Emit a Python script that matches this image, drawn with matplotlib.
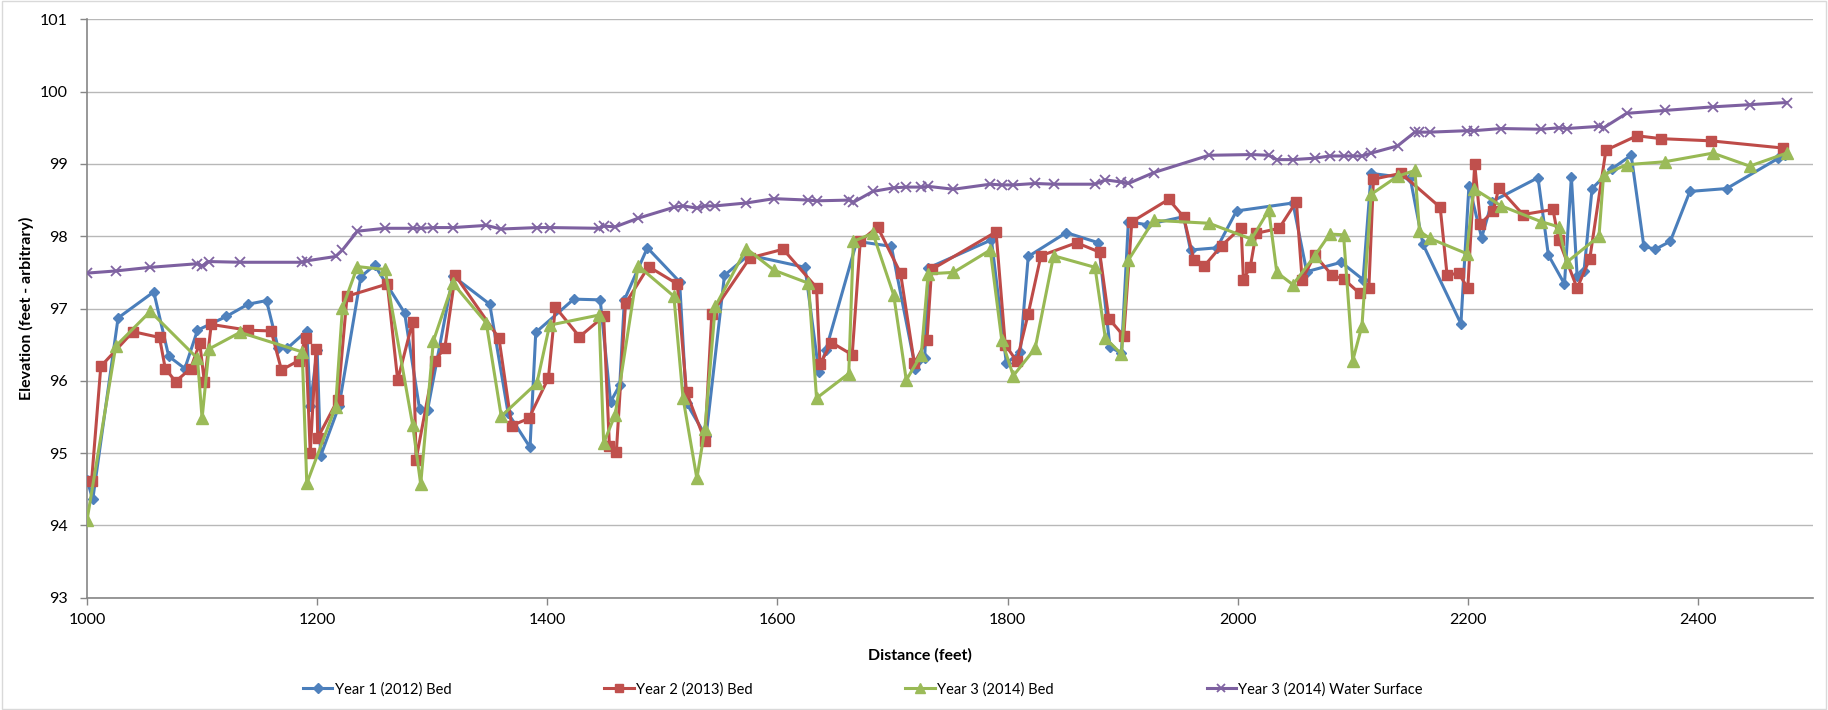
import matplotlib
matplotlib.use("Agg")
import matplotlib.pyplot as plt
from matplotlib.patches import Rectangle

plt.rcParams['font.family'] = ['Lato', 'DejaVu Sans']

# ---- Year 1 (2012) Bed ----
x1 = [1000, 1005, 1027, 1058, 1071, 1085, 1096, 1121, 1140, 1156, 1166, 1174, 1191, 1194,
      1200, 1203, 1219, 1238, 1250, 1276, 1289, 1296, 1318, 1350, 1366, 1385, 1390, 1423,
      1446, 1455, 1463, 1467, 1487, 1515, 1521, 1538, 1554, 1575, 1624, 1636, 1642, 1669,
      1699, 1720, 1728, 1731, 1786, 1799, 1811, 1818, 1851, 1879, 1889, 1899, 1905, 1921,
      1953, 1959, 1982, 1999, 2048, 2060, 2090, 2109, 2116, 2150, 2161, 2194, 2201, 2212,
      2221, 2261, 2270, 2284, 2290, 2295, 2301, 2308, 2325, 2342, 2353, 2363, 2376, 2393,
      2425, 2470, 2476]
y1 = [94.63, 94.36, 96.87, 97.23, 96.34, 96.17, 96.70, 96.89, 97.06, 97.11, 96.46, 96.45, 96.69, 95.65,
      96.43, 94.96, 95.65, 97.44, 97.60, 96.94, 95.61, 95.60, 97.45, 97.06, 95.55, 95.08, 96.67, 97.13,
      97.12, 95.71, 95.94, 97.12, 97.84, 97.37, 95.69, 95.23, 97.46, 97.74, 97.57, 96.12, 96.42, 97.93,
      97.86, 96.17, 96.31, 97.56, 97.95, 96.24, 96.40, 97.72, 98.05, 97.91, 96.47, 96.38, 98.20, 98.16,
      98.27, 97.81, 97.84, 98.35, 98.46, 97.51, 97.64, 97.40, 98.87, 98.80, 97.89, 96.79, 98.70, 97.98,
      98.48, 98.81, 97.74, 97.34, 98.82, 97.45, 97.52, 98.66, 98.93, 99.12, 97.86, 97.82, 97.93, 98.62,
      98.66, 99.08, 99.13]

# ---- Year 2 (2013) Bed ----
x2 = [1004, 1012, 1040, 1063, 1068, 1077, 1090, 1098, 1102, 1108, 1140, 1160, 1169, 1184,
      1190, 1194, 1199, 1200.5, 1218, 1226, 1261, 1270, 1283, 1286, 1302, 1311, 1320, 1358,
      1369, 1384, 1401, 1407, 1428, 1449, 1454, 1460, 1468, 1488, 1513, 1521, 1537, 1543,
      1576, 1605, 1634, 1637, 1647, 1665, 1672, 1687, 1707, 1719, 1730, 1734, 1790, 1798,
      1808, 1818, 1829, 1860, 1880, 1888, 1901, 1908, 1940, 1953, 1962, 1971, 1986, 2003,
      2005, 2011, 2016, 2036, 2051, 2056, 2067, 2082, 2092, 2106, 2114, 2118, 2142, 2176,
      2182, 2192, 2200, 2206, 2211, 2222, 2227, 2248, 2274, 2279, 2295, 2306, 2320, 2347,
      2368, 2411, 2474]
y2 = [94.62, 96.20, 96.68, 96.60, 96.17, 95.99, 96.17, 96.52, 95.98, 96.78, 96.70, 96.69, 96.15, 96.28,
      96.59, 95.00, 96.44, 95.21, 95.74, 97.17, 97.34, 96.01, 96.82, 94.91, 96.27, 96.46, 97.46, 96.59,
      95.38, 95.48, 96.04, 97.02, 96.61, 96.89, 95.10, 95.01, 97.07, 97.58, 97.34, 95.84, 95.17, 96.93,
      97.70, 97.82, 97.29, 96.23, 96.53, 96.36, 97.93, 98.13, 97.49, 96.24, 96.57, 97.54, 98.06, 96.50,
      96.27, 96.93, 97.73, 97.91, 97.78, 96.86, 96.62, 98.20, 98.51, 98.27, 97.67, 97.59, 97.87, 98.12,
      97.40, 97.58, 98.04, 98.11, 98.48, 97.40, 97.74, 97.46, 97.41, 97.21, 97.28, 98.79, 98.87, 98.40,
      97.46, 97.49, 97.28, 99.00, 98.17, 98.35, 98.67, 98.30, 98.37, 97.95, 97.28, 97.69, 99.19, 99.39,
      99.35, 99.32, 99.22]

# ---- Year 3 (2014) stations (shared by bed and water surface) ----
x3 = [1000, 1025, 1055, 1096, 1100, 1106, 1133, 1187, 1191, 1216, 1222, 1235, 1259, 1283,
      1290, 1301, 1318, 1347, 1360, 1391, 1402, 1445, 1449, 1459, 1479, 1510, 1518, 1530,
      1537, 1546, 1573, 1597, 1627, 1634, 1662, 1666, 1683, 1701, 1712, 1725, 1731, 1753,
      1785, 1795, 1805, 1824, 1840, 1876, 1885, 1899, 1905, 1927, 1975, 2012, 2027, 2034,
      2048, 2067, 2080, 2092, 2100, 2108, 2116, 2139, 2154, 2158, 2167, 2199, 2205, 2229,
      2264, 2279, 2286, 2314, 2318, 2338, 2371, 2413, 2445, 2477]
y3_bed = [94.07, 96.48, 96.96, 96.31, 95.48, 96.44, 96.67, 96.40, 94.58, 95.64, 97.01, 97.58, 97.54, 95.39,
          94.57, 96.55, 97.35, 96.80, 95.51, 95.97, 96.77, 96.91, 95.14, 95.53, 97.59, 97.17, 95.76, 94.65,
          95.34, 97.03, 97.83, 97.53, 97.35, 95.76, 96.10, 97.93, 98.04, 97.19, 96.01, 96.36, 97.48, 97.50,
          97.81, 96.56, 96.07, 96.45, 97.73, 97.57, 96.59, 96.37, 97.67, 98.22, 98.18, 97.96, 98.36, 97.50,
          97.33, 97.73, 98.03, 98.02, 96.28, 96.76, 98.58, 98.83, 98.91, 98.07, 97.97, 97.76, 98.66, 98.42,
          98.20, 98.13, 97.64, 98.00, 98.85, 98.99, 99.03, 99.15, 98.97, 99.15]
y3_ws = [97.49, 97.52, 97.57, 97.62, 97.59, 97.65, 97.64, 97.64, 97.66, 97.72, 97.81, 98.07, 98.11, 98.11,
         98.11, 98.12, 98.12, 98.15, 98.10, 98.12, 98.12, 98.11, 98.14, 98.13, 98.25, 98.40, 98.42, 98.39,
         98.42, 98.42, 98.46, 98.52, 98.50, 98.49, 98.50, 98.47, 98.62, 98.67, 98.68, 98.68, 98.69, 98.65,
         98.72, 98.71, 98.71, 98.73, 98.72, 98.72, 98.78, 98.75, 98.73, 98.88, 99.12, 99.13, 99.12, 99.06,
         99.06, 99.08, 99.11, 99.11, 99.11, 99.11, 99.15, 99.25, 99.44, 99.44, 99.44, 99.46, 99.46, 99.49,
         99.48, 99.50, 99.49, 99.52, 99.50, 99.70, 99.74, 99.79, 99.82, 99.85]

labels = ["Year 1 (2012) Bed", "Year 2 (2013) Bed", "Year 3 (2014) Bed", "Year 3 (2014) Water Surface"]
x_ticks = [1000, 1200, 1400, 1600, 1800, 2000, 2200, 2400]
y_ticks = [93, 94, 95, 96, 97, 98, 99, 100, 101]

fig = plt.figure(figsize=(18.28, 7.10), dpi=100)
ax = fig.add_axes([0.0476, 0.1582, 0.9442, 0.8145])

lw = 2.2
ax.plot(x1, y1, color='#4A7EBB', lw=lw, marker='D', ms=5.5, mfc='#4F81BD', mec='#4F81BD', label=labels[0], zorder=3)
ax.plot(x2, y2, color='#BE4B48', lw=lw, marker='s', ms=7, mfc='#C0504D', mec='#C0504D', label=labels[1], zorder=4)
ax.plot(x3, y3_bed, color='#98B954', lw=lw, marker='^', ms=8, mfc='#9BBB59', mec='#9BBB59', label=labels[2], zorder=5)
ax.plot(x3, y3_ws, color='#7D60A0', lw=lw, marker='x', ms=7, mew=1.3, mec='#8064A2', label=labels[3], zorder=6)

ax.set_xlim(1000, 2500)
ax.set_ylim(93, 101)
ax.set_xticks(x_ticks)
ax.set_yticks(y_ticks)
ax.tick_params(axis='both', labelsize=11.5, colors='#000000', length=5, width=1)
ax.tick_params(axis='x', pad=6)
ax.tick_params(axis='y', pad=9)
ax.tick_params(axis='both', color='#868686')
ax.grid(axis='y', color='#b8b8b8', lw=1)
ax.set_axisbelow(True)
for s in ['top', 'right']:
    ax.spines[s].set_visible(False)
for s in ['left', 'bottom']:
    ax.spines[s].set_color('#868686')
    ax.spines[s].set_linewidth(1.2)

fig.text(0.503, 0.0775, "Distance (feet)", ha='center', va='center', fontsize=11.5, fontweight='bold')
fig.text(0.0145, 0.566, "Elevation (feet - arbitrary)", ha='center', va='center', rotation=90,
         fontsize=11.5, fontweight='bold')

leg = fig.legend(loc='center', bbox_to_anchor=(0.472, 0.029), ncol=4, frameon=False, fontsize=10.5,
                 handlelength=2.0, handletextpad=0.15, columnspacing=10.5, markerscale=0.9)

fig.patches.append(Rectangle((0.001, 0.001), 0.998, 0.998, transform=fig.transFigure,
                             fill=False, edgecolor='#d9d9d9', lw=1))

fig.savefig("out.png", dpi=100)
